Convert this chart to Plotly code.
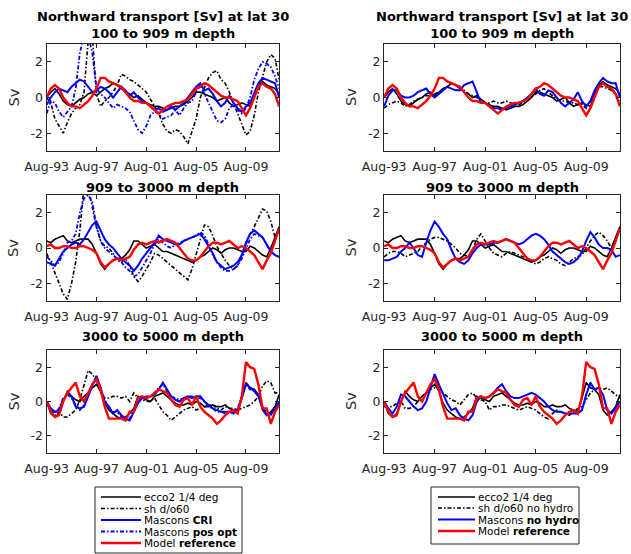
import pandas as pd
import plotly.graph_objects as go

# ---------------- data (4-monthly samples, Aug-1993 .. Apr-2012) ----------------
dates = pd.date_range("1993-08-01", periods=57, freq="4MS")

tick_dates = ["1993-08-01", "1997-08-01", "2001-08-01", "2005-08-01", "2009-08-01"]
tick_labels = ["Aug-93", "Aug-97", "Aug-01", "Aug-05", "Aug-09"]
y_ticks = [-2, 0, 2]
y_tick_labels = ["-2", "0", "2"]

row_titles = ["100 to 909 m depth", "909 to 3000 m depth", "3000 to 5000 m depth"]
main_title = "Northward transport [Sv] at lat 30"

# Row 1 : 100 to 909 m
ecco_1 = [0.0,0.3,0.5,0.2,-0.2,-0.4,-0.5,-0.3,-0.1,0.0,
          0.2,0.3,0.1,0.3,0.5,0.6,0.8,0.7,0.5,0.3,
          0.2,0.0,0.1,-0.1,-0.3,-0.4,-0.5,-0.5,-0.6,-0.7,
          -0.6,-0.5,-0.5,-0.4,-0.2,0.0,0.3,0.3,0.2,0.1,
          0.0,-0.2,-0.1,0.0,-0.3,-0.5,-0.4,-0.3,-0.4,-0.5,
          0.2,0.7,0.9,0.7,0.6,0.5,0.2]
model_1 = [0.0,0.5,0.7,0.5,0.0,-0.3,-0.5,-0.5,-0.6,-0.4,
           -0.2,0.1,0.5,1.1,1.1,0.9,0.8,0.7,0.6,0.3,
           0.0,-0.2,-0.2,-0.3,-0.3,-0.5,-0.7,-0.9,-0.7,-0.5,
           -0.4,-0.3,-0.3,-0.2,-0.1,0.2,0.5,0.6,0.8,0.7,
           0.5,0.3,0.1,0.0,0.0,-0.1,-0.2,-0.6,-1.0,-0.6,
           0.0,0.6,0.8,0.6,0.5,0.2,-0.5]
sh_1 = [0.0,-0.3,-1.2,-1.6,-2.0,-1.4,-0.9,-0.6,-0.4,0.3,
        3.2,3.5,0.2,-0.5,-0.2,0.0,0.3,0.7,1.3,1.2,
        1.0,0.9,0.7,0.5,0.3,-0.1,-0.5,-0.9,-1.5,-1.9,
        -2.0,-1.8,-1.9,-2.2,-2.6,-1.9,-1.2,0.0,0.6,1.1,
        1.4,1.5,1.0,0.8,0.3,-0.3,-0.9,-1.5,-2.1,-1.9,
        -1.0,0.3,1.2,2.0,2.4,2.2,1.0]
cri_1 = [-0.4,0.0,0.3,0.5,0.4,0.3,0.6,0.8,1.0,0.9,
         0.6,0.3,0.4,0.6,0.5,0.3,0.0,0.3,0.6,0.4,
         0.1,0.3,0.0,-0.2,-0.3,-0.5,-0.7,-0.6,-0.8,-0.7,
         -0.5,-0.7,-0.5,-0.3,0.0,0.3,0.6,0.8,0.4,0.5,
         0.2,-0.2,-0.5,-0.3,0.1,-0.3,-0.6,-0.8,-0.5,-0.3,
         0.3,0.8,1.1,1.0,0.9,0.8,0.0]
pos_1 = [-0.9,-0.2,-0.3,-0.8,-1.1,-0.8,-0.5,0.5,2.5,3.5,
         3.5,2.5,0.5,0.2,0.0,-0.3,-0.6,-0.4,-0.5,-0.6,
         -0.8,-1.3,-1.8,-2.0,-1.6,-1.0,-0.8,-0.9,-1.2,-1.1,
         -1.0,-0.7,-1.0,-0.6,-0.3,-0.2,0.3,0.7,0.2,-0.3,
         -0.9,-1.3,-1.4,-1.2,-0.6,-0.4,-0.7,-0.9,-0.6,0.0,
         1.0,1.6,2.0,1.9,1.7,1.2,0.5]
shnh_1 = [-0.6,-0.4,-0.3,-0.2,-0.3,-0.5,-0.4,-0.2,-0.1,0.0,
          0.1,0.1,0.2,0.3,0.5,0.6,0.8,0.7,0.6,0.4,
          0.2,0.1,0.0,-0.1,-0.3,-0.3,-0.2,-0.3,-0.3,-0.2,
          -0.3,-0.4,-0.4,-0.3,-0.2,0.0,0.2,0.4,0.5,0.3,
          0.1,-0.1,-0.2,-0.2,-0.3,-0.3,-0.4,-0.4,-0.6,-0.2,
          0.3,0.6,0.6,0.5,0.4,0.2,-0.3]
nh_1 = [-0.5,0.1,0.4,0.4,0.1,0.0,0.0,0.1,0.3,0.4,
        0.5,0.2,0.0,0.2,0.4,0.6,0.5,0.4,0.4,0.7,
        0.8,0.9,0.3,-0.3,-0.3,-0.5,-0.6,-0.6,-0.7,-0.6,
        -0.5,-0.4,-0.3,-0.2,0.0,0.2,0.5,0.2,0.1,0.4,
        0.3,0.0,-0.3,-0.5,-0.3,-0.1,0.3,-0.2,-0.5,-0.2,
        0.4,0.8,1.1,0.9,0.8,0.8,0.0]

# Row 2 : 909 to 3000 m
ecco_2 = [0.4,0.3,0.5,0.6,0.7,0.4,0.3,0.4,0.5,0.5,
          0.5,0.2,-0.3,-0.9,-1.2,-0.9,-0.7,-0.6,-0.6,-0.4,
          -0.1,0.4,0.4,0.2,0.0,0.1,0.2,0.0,-0.2,-0.2,
          -0.3,-0.4,-0.5,-0.6,-0.7,-0.8,-0.7,-0.5,-0.4,-0.2,
          0.0,-0.1,-0.3,-0.1,0.0,0.0,-0.1,-0.2,-0.2,0.1,
          0.0,-0.2,-0.4,-0.5,0.0,0.6,1.2]
model_2 = [0.1,0.2,0.0,0.0,0.1,0.1,0.0,0.0,0.1,0.1,
           0.0,-0.1,-0.3,-0.8,-1.1,-0.9,-0.7,-0.6,-0.7,-0.6,
           -0.5,-0.1,0.2,0.3,0.2,0.3,0.4,0.3,0.4,0.5,
           0.4,0.3,0.0,-0.3,-0.6,-0.7,-0.7,-0.5,-0.2,0.1,
           0.3,0.3,0.2,0.3,0.4,0.2,0.0,0.1,0.0,-0.2,
           -0.4,-0.8,-1.2,-0.7,-0.3,0.4,1.1]
sh_2 = [-0.3,-0.8,-1.4,-2.0,-2.6,-2.9,-2.0,-0.8,1.0,3.5,
        3.5,2.3,1.2,0.4,0.1,0.0,-0.3,-0.7,-0.8,-0.6,
        -1.0,-1.6,-1.9,-1.6,-1.2,-0.8,-0.3,-0.4,-0.6,-0.8,
        -1.0,-1.2,-1.4,-1.6,-1.8,-1.2,-0.4,0.5,1.3,1.2,
        0.7,0.1,-0.3,-0.7,-1.0,-1.2,-1.0,-0.4,0.3,0.8,
        1.2,1.7,2.2,2.1,1.5,0.6,1.0]
cri_2 = [-0.8,-0.9,-1.0,-0.6,-0.2,0.0,0.2,0.3,0.2,0.5,
         0.9,1.3,1.5,1.0,0.5,0.2,0.0,-0.3,-0.6,-0.8,
         -1.0,-1.3,-1.0,-0.6,-0.3,0.0,0.3,0.7,0.5,0.4,
         0.3,0.2,0.2,0.4,0.5,0.6,0.7,0.8,0.5,0.1,
         -0.3,-0.8,-1.0,-1.2,-1.1,-1.0,-0.8,-0.4,0.3,0.8,
         1.0,0.8,0.6,0.2,-0.2,-0.4,-0.5]
pos_2 = [-0.5,-0.7,-1.0,-0.8,-0.3,0.3,0.4,0.8,2.0,2.8,
         3.0,2.6,1.2,0.4,0.0,-0.2,-0.4,-0.6,-0.8,-1.1,
         -1.3,-1.6,-1.5,-1.1,-0.7,-0.3,0.2,0.5,0.3,0.1,
         0.0,0.2,0.3,0.4,0.5,0.6,0.7,0.9,0.7,0.2,
         -0.4,-0.8,-1.1,-1.3,-1.3,-1.2,-1.0,-0.6,0.0,0.5,
         0.8,0.7,0.6,0.2,-0.2,-0.4,-0.5]
shnh_2 = [-0.5,-0.3,-0.2,-0.2,-0.3,-0.5,-0.4,-0.3,-0.2,0.1,
          0.3,0.5,0.6,0.6,0.5,0.4,0.2,0.0,-0.3,-0.4,
          -0.5,-0.1,0.5,0.8,0.4,0.0,-0.3,-0.4,-0.5,-0.3,
          -0.2,-0.3,-0.4,-0.5,-0.6,-0.8,-0.9,-0.8,-0.6,-0.5,
          -0.6,-0.7,-0.9,-1.0,-0.8,-0.6,-0.5,-0.4,0.0,0.4,
          0.7,0.9,0.7,0.4,0.0,0.5,1.2]
nh_2 = [-0.7,-0.7,-0.6,-0.5,-0.2,0.0,0.3,0.0,-0.4,-0.5,
        0.3,1.0,1.5,1.2,0.8,0.5,-0.1,-0.6,-0.8,-0.9,
        -0.7,-0.3,0.0,0.2,0.2,0.2,0.3,0.3,0.4,0.5,
        0.4,0.3,0.2,0.3,0.5,0.7,0.8,0.7,0.5,0.2,
        -0.2,-0.4,-0.6,-0.8,-0.9,-0.8,-0.6,-0.2,0.4,0.9,
        0.6,0.2,0.0,0.0,-0.1,-0.5,-0.4]

# Row 3 : 3000 to 5000 m
ecco_3 = [0.0,-0.7,-0.9,-0.7,0.0,0.6,0.3,0.1,0.0,0.3,
          0.5,0.8,1.0,0.6,-0.1,-0.5,-0.7,-0.9,-1.0,-0.9,
          -0.7,-0.4,0.3,0.2,0.1,0.0,0.3,0.4,0.5,0.3,
          0.1,-0.1,-0.2,-0.2,-0.1,-0.2,0.0,-0.1,-0.3,-0.3,
          -0.2,-0.3,-0.3,-0.2,-0.4,-0.5,-0.6,0.2,1.1,0.8,
          0.7,0.4,-0.5,-0.8,-0.6,-0.3,0.4]
model_3 = [0.0,-0.6,-0.9,-0.8,0.0,0.5,0.8,1.1,0.3,0.0,
           0.5,1.0,1.3,0.7,-0.3,-1.0,-1.0,-1.0,-1.0,-1.1,
           -0.6,-0.6,0.2,0.3,0.2,0.3,0.5,0.7,0.6,0.5,
           0.1,-0.2,-0.3,0.1,0.2,-0.2,0.3,-0.3,-0.6,-0.8,
           -1.0,-1.3,-1.1,-0.8,-0.6,-0.5,-0.7,0.3,2.3,2.0,
           1.9,1.0,-0.4,-0.4,-1.3,-0.6,-0.2]
sh_3 = [0.0,-0.5,-0.8,-0.6,-0.9,-0.9,-0.7,-0.5,0.1,1.0,
        1.8,1.6,1.2,0.5,0.2,0.2,0.3,0.3,0.2,0.3,
        0.0,0.5,0.2,0.1,0.0,0.0,0.2,-0.2,-0.6,-0.8,
        -1.1,-0.9,-0.7,-0.5,-0.4,-0.3,-0.5,-0.4,-0.3,-0.2,
        -0.2,-0.4,-0.5,-0.3,-0.4,-0.4,-0.5,-0.4,-0.3,-0.2,
        0.0,0.3,0.9,1.2,1.1,0.5,0.5]
cri_3 = [0.0,-0.4,-0.6,-0.5,0.1,0.4,0.3,-0.3,-0.4,-0.3,
         0.3,0.9,1.5,0.8,0.0,-0.3,-0.7,-0.5,-0.8,-1.0,
         -1.1,-0.6,-0.1,0.2,0.2,0.3,0.4,0.7,1.1,0.7,
         0.3,0.1,0.0,0.2,0.3,0.2,0.3,0.3,0.0,-0.2,
         -0.4,-0.5,-0.6,-0.6,-0.6,-0.7,-0.5,0.2,1.0,0.8,
         0.6,0.3,-0.4,-0.8,-0.7,-0.5,0.0]
pos_3 = [0.0,-0.5,-0.7,-0.4,0.2,0.4,0.2,-0.2,-0.5,-0.2,
         0.4,1.0,1.4,0.7,0.1,-0.4,-0.6,-0.6,-0.9,-1.0,
         -1.0,-0.5,0.0,0.2,0.3,0.3,0.5,0.8,1.0,0.6,
         0.3,0.2,0.1,0.2,0.3,0.3,0.2,0.2,0.0,-0.3,
         -0.4,-0.6,-0.6,-0.7,-0.6,-0.6,-0.4,0.3,1.0,0.7,
         0.7,0.3,-0.3,-0.7,-0.8,-0.4,0.0]
shnh_3 = [-0.3,-0.3,-0.3,-0.1,0.0,-0.4,-0.4,-0.3,0.0,0.3,
          0.5,0.7,0.8,0.7,0.5,0.3,0.1,0.0,-0.2,0.1,
          0.4,0.5,0.2,0.1,0.0,-0.5,-0.3,-0.3,-0.2,-0.2,
          -0.3,-0.4,-0.5,-0.4,-0.3,-0.4,-0.5,-0.7,-0.9,-1.0,
          -0.7,-0.5,-0.6,-0.7,-0.8,-0.6,-0.4,-0.3,0.1,0.5,
          0.7,0.8,0.7,0.8,0.6,0.4,0.2]
nh_3 = [0.0,-0.4,-0.7,-0.3,0.4,0.3,0.0,-0.3,-0.5,-0.4,
        0.0,0.8,1.6,1.0,0.5,-0.1,-0.5,-0.4,-0.8,-1.0,
        -1.1,-0.8,0.0,0.3,0.2,0.3,0.5,0.8,1.0,0.6,
        0.3,0.2,0.2,0.3,0.4,0.5,0.4,0.2,0.0,-0.3,
        -0.5,-0.6,-0.6,-0.7,-0.7,-0.7,-0.7,-0.5,0.4,1.1,
        0.7,0.8,0.4,-0.5,-0.7,-0.4,0.0]

left_names = ["ecco2 1/4 deg", "sh d/o60", "Mascons <b>CRI</b>",
              "Mascons <b>pos opt</b>", "Model <b>reference</b>"]
right_names = ["ecco2 1/4 deg", "sh d/o60 no hydro", "Mascons <b>no hydro</b>",
               "Model <b>reference</b>"]

left_rows = [[ecco_1, sh_1, cri_1, pos_1, model_1],
             [ecco_2, sh_2, cri_2, pos_2, model_2],
             [ecco_3, sh_3, cri_3, pos_3, model_3]]
right_rows = [[ecco_1, shnh_1, nh_1, model_1],
              [ecco_2, shnh_2, nh_2, model_2],
              [ecco_3, shnh_3, nh_3, model_3]]

# ---------------- styles ----------------
FONT = "DejaVu Sans, Verdana, sans-serif"
AXC = "#262626"
DASHDOT = "4px,2px,1.5px,2px"
left_styles = [dict(color="#000000", width=1.6),
               dict(color="#000000", width=1.6, dash=DASHDOT),
               dict(color="#0000ff", width=2.0),
               dict(color="#0000ff", width=1.8, dash=DASHDOT),
               dict(color="#ff0000", width=2.4)]
right_styles = [left_styles[0], left_styles[1], left_styles[2], left_styles[4]]

W, H = 631, 554
col_px = [(46.5, 279.3), (384.0, 620.0)]
row_px = [(44.0, 151.0), (195.0, 301.0), (350.0, 453.0)]


def px_x(v):
    return v / W


def px_y(v):
    return 1 - v / H


fig = go.Figure()
layout = {}
annotations = []
shapes = []

for r in range(3):
    for c in range(2):
        n = r * 2 + c + 1
        sfx = "" if n == 1 else str(n)
        rows = left_rows if c == 0 else right_rows
        names = left_names if c == 0 else right_names
        styles = left_styles if c == 0 else right_styles
        for k, (yv, nm, st) in enumerate(zip(rows[r], names, styles)):
            fig.add_trace(go.Scatter(
                x=dates[:len(yv)], y=yv, mode="lines", name=nm,
                line=st, xaxis="x" + sfx, yaxis="y" + sfx,
                showlegend=False, hoverinfo="skip"))
        x0, x1 = col_px[c]
        y0, y1 = row_px[r]
        layout["xaxis" + sfx] = dict(
            domain=[px_x(x0), px_x(x1)], anchor="y" + sfx, type="date",
            range=["1993-07-28", "2012-04-05"],
            tickmode="array", tickvals=tick_dates, ticktext=tick_labels,
            ticks="inside", ticklen=4, tickcolor=AXC, tickwidth=1,
            ticklabelstandoff=4,
            showline=True, linecolor=AXC, linewidth=1, mirror="ticks",
            showgrid=False, zeroline=False, automargin=False,
            tickfont=dict(family=FONT, size=12.5, color=AXC))
        layout["yaxis" + sfx] = dict(
            domain=[px_y(y1), px_y(y0)], anchor="x" + sfx,
            range=[-3, 3], tickmode="array", tickvals=y_ticks, ticktext=y_tick_labels,
            ticks="inside", ticklen=4, tickcolor=AXC, tickwidth=1,
            showline=True, linecolor=AXC, linewidth=1, mirror="ticks",
            showgrid=False, zeroline=False, automargin=False,
            tickfont=dict(family=FONT, size=12.5, color=AXC))
        cx = px_x((x0 + x1) / 2)
        # titles
        if r == 0:
            annotations.append(dict(text="<b>" + main_title + "</b><br><b>" + row_titles[0] + "</b>",
                                    x=cx, y=px_y(25), xref="paper", yref="paper",
                                    showarrow=False, xanchor="center", yanchor="middle",
                                    borderpad=0,
                                    font=dict(family=FONT, size=13, color="#000000")))
        else:
            ty = 187 if r == 1 else 336
            annotations.append(dict(text="<b>" + row_titles[r] + "</b>", x=cx, y=px_y(ty),
                                    xref="paper", yref="paper", showarrow=False,
                                    xanchor="center", yanchor="middle", borderpad=0,
                                    font=dict(family=FONT, size=13, color="#000000")))
        # y label
        annotations.append(dict(text="Sv", x=px_x(x0 - 33.5), y=px_y((y0 + y1) / 2),
                                xref="paper", yref="paper", showarrow=False,
                                textangle=-90, xanchor="center", yanchor="middle",
                                font=dict(family=FONT, size=14.5, color=AXC)))

# ---------------- legends (drawn as boxes, sample lines and texts) ----------------
legend_specs = [
    dict(box=(95, 487, 242, 553), line_x=(101, 141), text_x=143,
         rows=[497, 508.5, 520, 531.5, 543], names=left_names, styles=left_styles),
    dict(box=(431, 487, 579, 544), line_x=(438, 475), text_x=477,
         rows=[497, 508, 519.5, 531], names=right_names, styles=right_styles),
]
for spec in legend_specs:
    bx0, by0, bx1, by1 = spec["box"]
    shapes.append(dict(type="rect", xref="paper", yref="paper",
                       x0=px_x(bx0), x1=px_x(bx1), y0=px_y(by1), y1=px_y(by0),
                       line=dict(color=AXC, width=1), fillcolor="#ffffff", layer="above"))
    for ry, nm, st in zip(spec["rows"], spec["names"], spec["styles"]):
        ln = dict(color=st["color"], width=st["width"])
        if "dash" in st:
            ln["dash"] = st["dash"]
        shapes.append(dict(type="line", xref="paper", yref="paper",
                           x0=px_x(spec["line_x"][0]), x1=px_x(spec["line_x"][1]),
                           y0=px_y(ry), y1=px_y(ry), line=ln, layer="above"))
        annotations.append(dict(text=nm, x=px_x(spec["text_x"]), y=px_y(ry),
                                xref="paper", yref="paper", showarrow=False,
                                xanchor="left", yanchor="middle", borderpad=0,
                                font=dict(family=FONT, size=10.5, color="#000000")))

fig.update_layout(
    width=W, height=H, margin=dict(l=0, r=0, t=0, b=0, autoexpand=False),
    paper_bgcolor="#ffffff", plot_bgcolor="#ffffff", showlegend=False,
    annotations=annotations, shapes=shapes, **layout)

fig.write_html("out.html", config={"displayModeBar": False},
               post_script="document.body.style.margin='0px';"
                           "document.body.style.overflow='hidden';")
